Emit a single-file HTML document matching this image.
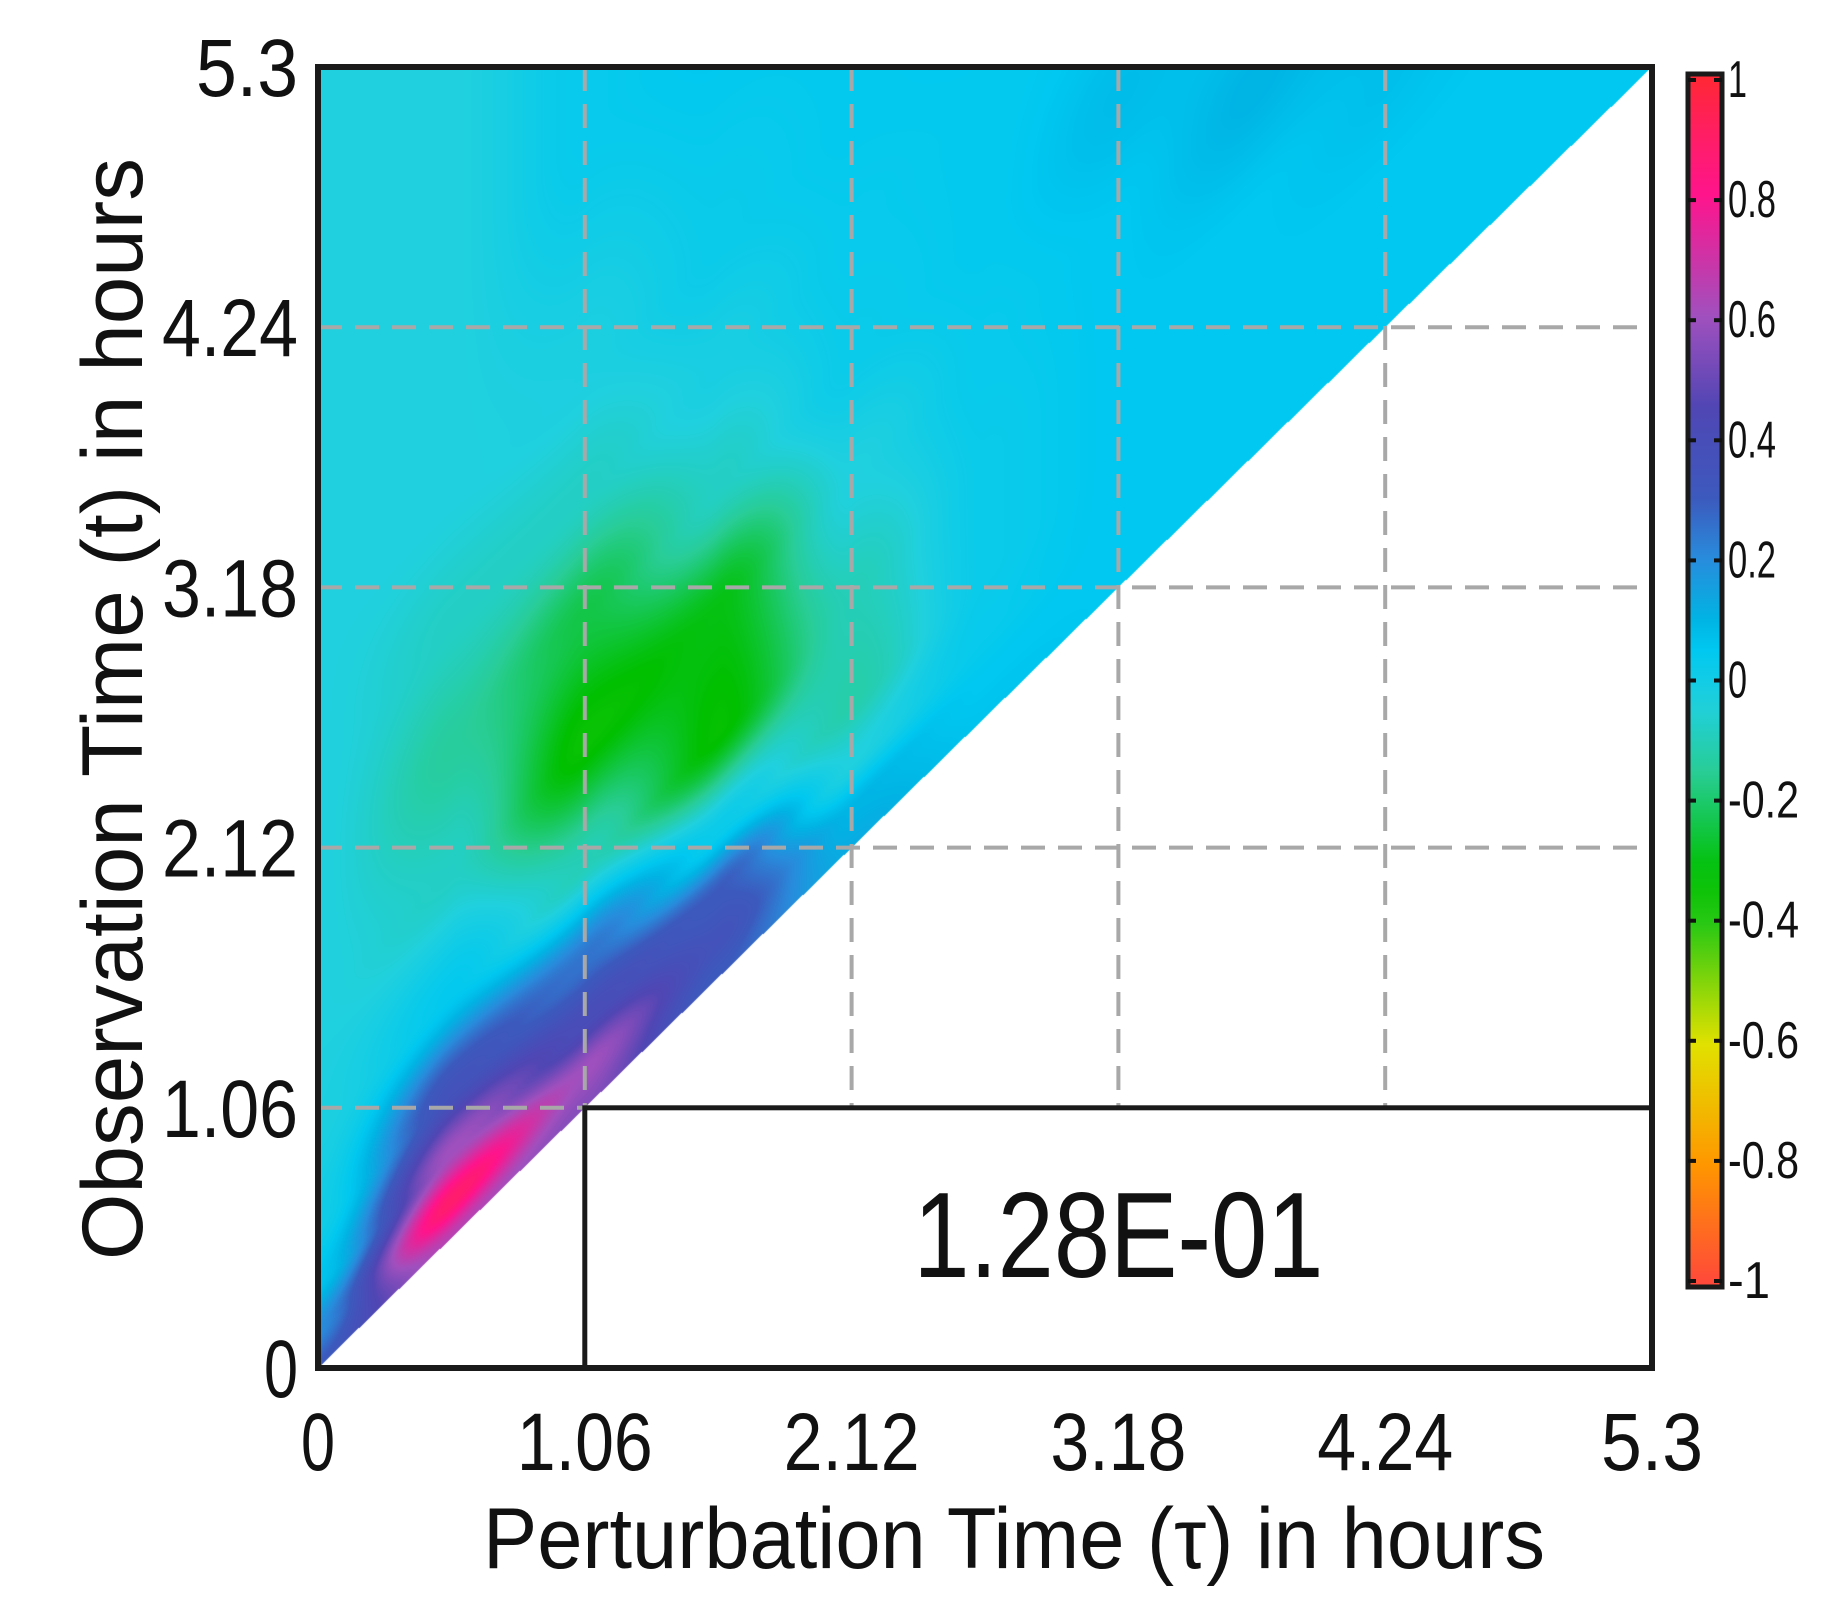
<!DOCTYPE html>
<html><head><meta charset="utf-8">
<style>
html,body{margin:0;padding:0;background:#fff;}
#wrap{position:relative;width:1831px;height:1600px;overflow:hidden;font-family:"Liberation Sans",sans-serif;}
canvas{position:absolute;left:318px;top:67px;}
svg{position:absolute;left:0;top:0;}
</style></head>
<body>
<div id="wrap">
<canvas id="hm" width="1334" height="1301"></canvas>
<svg id="ov" width="1831" height="1600"></svg>
</div>
<script>
// data
const tickValues = [0, 1.06, 2.12, 3.18, 4.24, 5.3];
const tickLabels = ["0", "1.06", "2.12", "3.18", "4.24", "5.3"];
const cbTicks = [1, 0.8, 0.6, 0.4, 0.2, 0, -0.2, -0.4, -0.6, -0.8, -1];
const cbLabels = ["1", "0.8", "0.6", "0.4", "0.2", "0", "-0.2", "-0.4", "-0.6", "-0.8", "-1"];
// grid: columns = perturbation time tau, rows = offset above diagonal (t - tau)
const gridTau = [0, 0.53, 1.06, 1.59, 2.12, 2.65, 3.18, 3.71, 4.24, 4.77, 5.3];
const gridD = [0, 0.15, 0.35, 0.6, 1.0, 1.5, 2.0, 2.5, 3.0, 4.0, 5.3];
const d000 = [0.3, 0.65, 0.55, 0.3, 0.12, 0.06, 0.05, 0.05, 0.05, 0.05, 0.05];
const d015 = [0.2, 0.88, 0.6, 0.35, 0.1, 0.05, 0.05, 0.05, 0.05, 0.05, 0.05];
const d035 = [0.06, 0.6, 0.4, 0.3, -0.04, 0.03, 0.05, 0.05, 0.05, 0.05, 0.05];
const d060 = [0.0, 0.35, 0.25, 0.02, -0.12, 0.02, 0.05, 0.05, 0.05, 0.05, 0.05];
const d100 = [-0.03, 0.04, -0.1, -0.33, -0.1, 0.02, 0.05, 0.05, 0.07, 0.05, 0.05];
const d150 = [-0.04, -0.08, -0.34, -0.3, -0.04, 0.03, 0.05, 0.1, 0.07, 0.05, 0.05];
const d200 = [-0.04, -0.14, -0.24, -0.08, 0.02, 0.04, 0.08, 0.06, 0.05, 0.05, 0.05];
const d250 = [-0.04, -0.08, -0.08, -0.02, 0.03, 0.04, 0.05, 0.05, 0.05, 0.05, 0.05];
const d300 = [-0.04, -0.04, -0.03, 0.02, 0.04, 0.05, 0.05, 0.05, 0.05, 0.05, 0.05];
const d400 = [-0.04, -0.04, 0.03, 0.05, 0.05, 0.05, 0.05, 0.05, 0.05, 0.05, 0.05];
const d530 = [-0.04, -0.04, 0.03, 0.05, 0.05, 0.05, 0.05, 0.05, 0.05, 0.05, 0.05];
const boxValue = "1.28E-01";

const rows = [d000, d015, d035, d060, d100, d150, d200, d250, d300, d400, d530];
const PL = 318, PR = 1652, PT = 67, PB = 1368, XMAX = 5.3;
const xs = v => PL + (v / XMAX) * (PR - PL);
const ys = v => PB - (v / XMAX) * (PB - PT);

const cstops = [[-1,[255,70,60]],[-0.8,[255,150,0]],[-0.6,[225,225,0]],[-0.4,[40,200,20]],[-0.32,[0,192,0]],[-0.15,[40,205,150]],[-0.04,[32,208,222]],[0.05,[0,200,240]],[0.1,[0,180,228]],[0.2,[40,140,220]],[0.3,[60,90,190]],[0.45,[80,70,180]],[0.6,[160,80,190]],[0.8,[255,20,140]],[0.9,[255,30,100]],[1,[255,40,50]]];
function cmap(v){
  v=Math.max(-1,Math.min(1,v));
  for(let i=0;i<cstops.length-1;i++){
    const a=cstops[i],b=cstops[i+1];
    if(v<=b[0]){const f=(v-a[0])/(b[0]-a[0]);return a[1].map((c,k)=>Math.round(c+(b[1][k]-c)*f));}
  }
  return cstops[cstops.length-1][1];
}
function seg(arr,v){
  let i=0;while(i<arr.length-2&&v>arr[i+1])i++;
  let f=(v-arr[i])/(arr[i+1]-arr[i]);f=Math.max(0,Math.min(1,f));
  return [i,f];
}
function val(tau,t){
  const d=t-tau;
  let [i,u]=seg(gridTau,tau), [j,w]=seg(gridD,d);
  u=u*u*(3-2*u); w=w*w*(3-2*w);
  const a=rows[j][i],b=rows[j][i+1],c=rows[j+1][i],e=rows[j+1][i+1];
  return a*(1-u)*(1-w)+b*u*(1-w)+c*(1-u)*w+e*u*w;
}
const cv=document.getElementById('hm'),ctx=cv.getContext('2d');
const W=cv.width,H=cv.height,img=ctx.createImageData(W,H);
for(let py=0;py<H;py++){
  const t=XMAX*(1-py/(H-1));
  for(let px=0;px<W;px++){
    const tau=XMAX*px/(W-1);
    const k=(py*W+px)*4;
    if(tau>t){img.data[k]=255;img.data[k+1]=255;img.data[k+2]=255;img.data[k+3]=255;continue;}
    const c=cmap(val(tau,t));
    img.data[k]=c[0];img.data[k+1]=c[1];img.data[k+2]=c[2];img.data[k+3]=255;
  }
}
ctx.putImageData(img,0,0);

const NS='http://www.w3.org/2000/svg', svg=document.getElementById('ov');
function mk(tag,attrs,parent){const e=document.createElementNS(NS,tag);for(const k in attrs)e.setAttribute(k,attrs[k]);(parent||svg).appendChild(e);return e;}
const dash={stroke:'#a8a8a8','stroke-width':4,'stroke-dasharray':'24 13',fill:'none'};
for(let i=1;i<tickValues.length-1;i++){
  const v=tickValues[i];
  const h=mk('line',Object.assign({x1:PL,x2:PR,y1:ys(v),y2:ys(v)},dash));
  
  
  const vl=mk('line',Object.assign({x1:xs(v),x2:xs(v),y1:PT,y2:ys(1.06)},dash));
  
  
}
const bx=mk('rect',{x:xs(1.06),y:ys(1.06),width:PR-xs(1.06),height:PB-ys(1.06),fill:'#fff',stroke:'#1a1a1a','stroke-width':5});


const bt=mk('text',{x:(xs(1.06)+PR)/2,y:1277,'text-anchor':'middle','font-size':122,textLength:410,lengthAdjust:'spacingAndGlyphs',fill:'#111'});
bt.textContent=boxValue;


const fr=mk('rect',{x:PL,y:PT,width:PR-PL,height:PB-PT,fill:'none',stroke:'#1a1a1a','stroke-width':6});


tickValues.forEach((v,i)=>{
  const L=tickLabels[i].length;
  const tl=L*34;
  const xt=mk('text',{x:xs(v),y:1470,'text-anchor':'middle','font-size':82,textLength:tl,lengthAdjust:'spacingAndGlyphs',fill:'#111'});
  xt.textContent=tickLabels[i];
  
  
  const yt=mk('text',{x:298,y:ys(v)+29,'text-anchor':'end','font-size':82,textLength:tl,lengthAdjust:'spacingAndGlyphs',fill:'#111'});
  yt.textContent=tickLabels[i];
  
  
});
const xtit=mk('text',{x:1014,y:1568,'text-anchor':'middle','font-size':86,textLength:1062,lengthAdjust:'spacingAndGlyphs',fill:'#111'});
xtit.textContent='Perturbation Time  (τ) in hours';


const ytit=mk('text',{x:0,y:0,'text-anchor':'middle','font-size':86,textLength:1102,lengthAdjust:'spacingAndGlyphs',fill:'#111',transform:'translate(142,709) rotate(-90)'});
ytit.textContent='Observation Time  (t) in hours';


const CT=74, CB=1287, CX=1688, CW=34;
const defs=mk('defs',{});
const lg=mk('linearGradient',{id:'cbg',x1:0,y1:0,x2:0,y2:1},defs);
for(let k=0;k<=40;k++){const v=1-k/20;const c=cmap(v);mk('stop',{offset:(k/40),'stop-color':`rgb(${c[0]},${c[1]},${c[2]})`},lg);}
const cb=mk('rect',{x:CX,y:CT,width:CW,height:CB-CT,fill:'url(#cbg)',stroke:'#1a1a1a','stroke-width':5});


const cys=v=>CT+6+(1-v)/2*(CB-CT-12);
cbTicks.forEach((v,i)=>{
  const y=cys(v);
  const t1=mk('line',{x1:CX,x2:CX+8,y1:y,y2:y,stroke:'#111','stroke-width':4});
  
  
  const t2=mk('line',{x1:CX+CW-8,x2:CX+CW,y1:y,y2:y,stroke:'#111','stroke-width':4});
  
  
  const lab=cbLabels[i];
  const tl=lab.replace('.','').length*19+(lab.includes('.')?10:0)+(lab.includes('-')?4:0);
  const tx=mk('text',{x:CX+CW+6,y:y+17,'font-size':52,textLength:tl,lengthAdjust:'spacingAndGlyphs',fill:'#111'});
  tx.textContent=lab;
  
  
});
</script>
</body></html>
